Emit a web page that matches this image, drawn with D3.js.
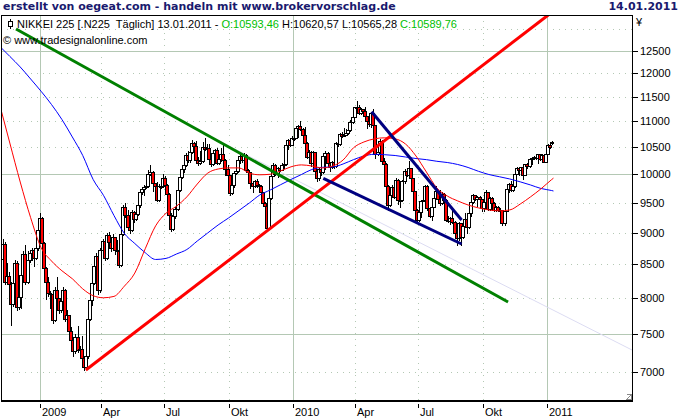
<!DOCTYPE html>
<html>
<head>
<meta charset="utf-8">
<script src="https://cdn.jsdelivr.net/npm/d3@7"></script>
<style>
  body { margin: 0; background: #fff; }
  svg text { font-family: "Liberation Sans", Arial, sans-serif; font-size: 11px; }
</style>
</head>
<body>
<svg id="chart" width="680" height="420"></svg>
<script>
// OHLC candles, 2 trading days each [open, high, low, close]
const c2008 = [
  [8577,9400,8540,9350],[9350,9420,8520,8583],[8583,8900,8560,8809],[8809,8850,8200,8238],
  [8238,8520,8200,8328],[8328,8380,8150,8207],[8207,8230,7620,7910],[7910,8360,7880,8213],
  [8213,8560,8180,8512],[8512,8550,7820,7863],[7863,8100,7840,8016],[8016,8380,7860,8329],
  [8329,8700,8300,8660],[8660,8800,8200,8235],[8235,8700,8220,8568],[8568,8720,8540,8668],
  [8668,8760,8560,8723],[8723,8740,8480,8599],[8599,8800,8580,8747],[8747,9100,8720,9043]
];
const c2009q1 = [
  [9043,9330,9000,9239],[9239,9260,8800,8836],[8836,8850,8350,8438],[8438,8460,7980,8230],
  [8230,8300,8020,8065],[8065,8100,7860,8051],[8051,8080,7650,7682],[7682,8150,7670,8106],
  [8106,8300,7960,7994],[7994,8000,7790,7825],[7825,8080,7800,7949],[7949,8150,7920,8112],
  [8112,8130,7670,7705],[7705,7820,7700,7750],[7750,7760,7500,7534],[7534,7590,7380,7416],
  [7416,7440,7200,7268],[7268,7500,7240,7458],[7458,7600,7250,7280],[7280,7330,7180,7290],
  [7290,7460,7150,7173],[7173,7200,7020,7054],[7054,7400,7040,7198],[7198,7730,7180,7704],
  [7704,8000,7680,7972],[7972,8250,7900,8215],[8215,8520,8200,8480],[8480,8680,8450,8627],
  [8627,8650,8050,8109]
];
const c2009q2 = [
  [8109,8750,8080,8719],[8719,8900,8700,8857],[8857,8880,8560,8595],[8595,9000,8580,8964],
  [8964,9010,8800,8842],[8842,8850,8700,8755],[8755,8980,8740,8924],[8924,8930,8660,8727],
  [8727,8880,8680,8708],[8708,8760,8460,8493],[8493,9000,8480,8977],[8977,9460,8960,9432],
  [9432,9500,9260,9298],[9298,9380,9060,9093],[9093,9300,9000,9038],[9038,9380,9020,9344],
  [9344,9360,9180,9225],[9225,9380,9200,9310],[9310,9480,9290,9451],[9451,9700,9430,9677],
  [9677,9780,9650,9741],[9741,9800,9640,9769],[9769,9900,9760,9787],[9787,10070,9770,10004],
  [10004,10170,9990,10039],[10039,10050,9700,9840],[9840,9850,9660,9786],[9786,9860,9520,9549],
  [9549,9820,9530,9797],[9797,9900,9760,9783]
];
const c2009q3 = [
  [9783,10000,9770,9939],[9939,9960,9790,9816],[9816,9830,9620,9647],[9647,9660,9270,9291],
  [9291,9330,9030,9050],[9050,9300,9040,9269],[9269,9420,9240,9395],[9395,9740,9380,9723],
  [9723,9960,9700,9944],[9944,10120,9930,10087],[10087,10190,10040,10165],[10165,10400,10150,10352],
  [10352,10420,10220,10252],[10252,10450,10230,10412],[10412,10640,10400,10585],[10585,10600,10400,10517],
  [10517,10620,10240,10268],[10268,10320,10170,10204],[10204,10420,10190,10238],[10238,10600,10230,10497],
  [10497,10680,10450,10473],[10473,10570,10440,10492],[10492,10560,10250,10280],[10280,10300,10150,10187],
  [10187,10420,10170,10393],[10393,10470,10290,10444],[10444,10480,10180,10202],[10202,10300,10180,10270],
  [10270,10480,10250,10370],[10370,10580,10240,10265],[10265,10280,9980,10101]
];
const c2009q4 = [
  [10101,10170,9950,9978],[9978,9990,9630,9674],[9674,9830,9650,9799],[9799,10040,9780,10016],
  [10016,10110,10000,10060],[10060,10290,10040,10258],[10258,10370,10200,10336],[10336,10360,10230,10267],
  [10267,10400,10250,10362],[10362,10370,10040,10075],[10075,10090,9860,10034],[10034,10040,9760,9844],
  [9844,9860,9680,9789],[9789,9900,9770,9870],[9870,9910,9780,9804],[9804,9830,9740,9791],
  [9791,9800,9640,9676],[9676,9690,9470,9497],[9497,9510,9370,9441],[9441,9450,9060,9081],
  [9081,9600,9070,9572],[9572,10000,9560,9977],[9977,10200,9960,10167],[10167,10190,9980,10004],
  [10004,10130,9950,10107],[10107,10140,10060,10083],[10083,10200,10070,10177],[10177,10210,10110,10183],
  [10183,10560,10170,10536],[10536,10660,10470,10634],[10634,10680,10520,10546]
];
const c2010q1 = [
  [10546,10710,10540,10681],[10681,10770,10640,10681],[10681,10900,10670,10879],[10879,10930,10700,10907],
  [10907,11010,10830,10855],[10855,10870,10700,10737],[10737,10900,10560,10590],[10590,10600,10300,10325],
  [10325,10440,10220,10415],[10415,10420,10150,10205],[10205,10430,10190,10404],[10404,10410,10030,10057],
  [10057,10060,9870,9932],[9932,10110,9900,10092],[10092,10100,9990,10034],[10034,10360,10020,10335],
  [10335,10420,10100,10400],[10400,10410,10170,10198],[10198,10220,10060,10126],[10126,10250,10110,10221],
  [10221,10280,10120,10145],[10145,10600,10130,10585],[10585,10620,10530,10563],[10563,10780,10550,10751],
  [10751,10790,10690,10721],[10721,10880,10720,10744],[10744,10850,10740,10774],[10774,10860,10760,10828],
  [10828,11030,10810,10986],[10986,11120,10970,11089]
];
const c2010q2 = [
  [11089,11300,11080,11286],[11286,11410,11260,11282],[11282,11330,11140,11168],[11168,11280,11150,11251],
  [11251,11260,11130,11204],[11204,11300,11080,11102],[11102,11110,10880,11000],[11000,11120,10920,10949],
  [10949,11180,10890,11165],[11165,11250,10900,10924],[10924,10930,10300,10364],[10364,10580,10350,10411],
  [10411,10650,10380,10620],[10620,10630,10200,10235],[10235,10290,10150,10186],[10186,10200,9700,9784],
  [9784,9800,9380,9459],[9459,9660,9440,9639],[9639,9800,9620,9768],[9768,9790,9580,9603],
  [9603,9940,9590,9901],[9901,9910,9480,9538],[9538,9580,9420,9542],[9542,9900,9530,9879],
  [9879,10090,9850,10067],[10067,10080,9960,9995],[9995,10250,9990,10113],[10113,10120,9900,9928],
  [9928,9940,9670,9693],[9693,9710,9360,9382]
];
const c2010q3 = [
  [9382,9390,9150,9203],[9203,9360,9190,9338],[9338,9550,9250,9535],[9535,9620,9520,9548],
  [9548,9810,9500,9796],[9796,9800,9380,9408],[9408,9420,9250,9278],[9278,9450,9200,9431],
  [9431,9590,9420,9572],[9572,9790,9560,9696],[9696,9700,9500,9570],[9570,9720,9460,9489],
  [9489,9680,9470,9642],[9642,9660,9530,9551],[9551,9560,9190,9212],[9212,9280,9170,9196],
  [9196,9260,9140,9241],[9241,9390,9160,9179],[9179,9190,8970,8995],[8995,9000,8800,8906],
  [8906,9180,8880,9149],[9149,9160,8800,8927],[8927,9130,8910,9114],[9114,9320,9100,9226],
  [9226,9230,9000,9099],[9099,9340,9080,9319],[9319,9540,9280,9516],[9516,9650,9500,9626],
  [9626,9640,9540,9566],[9566,9620,9450,9603],[9603,9610,9470,9559]
];
const c2010q4 = [
  [9559,9570,9350,9404],[9404,9540,9360,9518],[9518,9720,9510,9684],[9684,9690,9370,9388],
  [9388,9600,9380,9583],[9583,9590,9470,9498],[9498,9510,9360,9381],[9381,9450,9350,9426],
  [9426,9440,9360,9377],[9377,9410,9340,9366],[9366,9370,9120,9154],[9154,9380,9120,9358],
  [9358,9750,9350,9732],[9732,9850,9680,9830],[9830,9880,9700,9724],[9724,9850,9710,9797],
  [9797,10030,9780,10013],[10013,10130,10000,10115],[10115,10120,9990,10079],[10079,10140,10020,10125],
  [10125,10130,9920,9988],[9988,10190,9980,10178],[10178,10200,10120,10141],[10141,10300,10130,10285],
  [10285,10310,10190,10293],[10293,10340,10280,10309],[10309,10330,10280,10303],[10303,10380,10200,10370],
  [10370,10380,10260,10279],[10279,10370,10260,10355],[10355,10370,10220,10229],[10229,10410,10220,10380],
  [10380,10560,10370,10541],[10541,10560,10480,10512],[10593,10620,10565,10590]
];

// moving averages, sampled at candle index
const maIndex = [1,5,10,15,20,25,30,35,40,45,50,55,60,65,70,75,80,85,90,95,100,105,110,115,120,125,130,
  135,140,145,150,155,160,165,170,175,180,185,190,195,200,205,210,215,220,225,230,235,240,245,250,255,260,265,266];
const maRed = [11200,10580,9860,9245,8760,8550,8400,8280,8130,8030,8000,8020,8170,8365,8740,9110,9320,9440,
  9600,9825,10020,10095,10115,10115,10020,9990,10000,10060,10135,10170,10150,10115,10150,10260,10490,10600,
  10660,10680,10660,10560,10335,10040,9755,9615,9530,9460,9410,9375,9360,9375,9475,9600,9740,9900,9930];
const maBlue = [12560,12372,12138,11877,11617,11343,11040,10697,10345,9906,9624,9282,8985,8824,8679,8573,
  8590,8658,8729,8864,8993,9124,9240,9366,9494,9632,9719,9813,9906,9995,10086,10126,10132,10187,10267,10335,
  10367,10359,10344,10316,10288,10267,10237,10214,10178,10123,10053,9995,9955,9915,9864,9808,9746,9711,9702];

// trend lines [candle index, price]
const trendGreen = [[7.97,13000],[244.2,7939]];
const trendRed = [[41.5,7021],[263.5,13333]];
const trendNavySteep = [[178.7,11196],[221.9,9206]];
const trendNavyLow = [[155.5,9927],[221.9,8816]];
const trendFaint = [[98.7,10754],[303.7,7280]];

// axis ticks
const xTickIdx = [19.25,48.75,79.25,110.25,140.75,170.75,200.75,232.25,262.75];
const xTickLabels = ["2009","Apr","Jul","Okt","2010","Apr","Jul","Okt","2011"];
const xTickMajor = [true,false,false,false,true,false,false,false,true];
const priceTicks = [7000,7500,8000,8500,9000,9500,10000,10500,11000,11500,12000,12500,13000];
const priceLabels = [7000,7500,8000,8500,9000,9500,10000,10500,11000,11500,12000,12500];

const candles = [].concat(c2008, c2009q1, c2009q2, c2009q3, c2009q4, c2010q1, c2010q2, c2010q3, c2010q4);

const plot = { left: 1, top: 15, right: 632, bottom: 400 };
const gridColor = "#b4c8b4";

const x = d3.scaleLinear().domain([19.25, 262.75]).range([39.5, 546.7]);
const y = d3.scaleLog().domain([7000, 12500]).range([371.7, 50.7]);

const svg = d3.select("#chart");
svg.append("defs").append("clipPath").attr("id", "clip")
  .append("rect")
  .attr("x", plot.left + 1).attr("y", plot.top + 1)
  .attr("width", plot.right - plot.left - 1).attr("height", plot.bottom - plot.top - 1);

// GRID
const grid = svg.append("g").attr("shape-rendering", "crispEdges");
grid.selectAll("line.h").data(priceTicks).join("line")
  .attr("class", "h")
  .attr("x1", plot.left).attr("x2", plot.right)
  .attr("y1", d => Math.round(y(d)) + 0.5).attr("y2", d => Math.round(y(d)) + 0.5)
  .attr("stroke", gridColor)
  .attr("stroke-dasharray", d => d % 2500 === 0 ? null : "1,5");
grid.selectAll("line.v").data(xTickIdx).join("line")
  .attr("class", "v")
  .attr("x1", d => Math.round(x(d)) + 0.5).attr("x2", d => Math.round(x(d)) + 0.5)
  .attr("y1", plot.top).attr("y2", plot.bottom)
  .attr("stroke", gridColor)
  .attr("stroke-dasharray", (d, i) => xTickMajor[i] ? null : "1,5");

const plotG = svg.append("g").attr("clip-path", "url(#clip)");
const line2 = d3.line().x(d => x(d[0])).y(d => y(d[1]));

// faint trend line under the price
plotG.append("path").attr("d", line2(trendFaint))
  .attr("fill", "none").attr("stroke", "#dcdcf2").attr("stroke-width", 1);

// CANDLES
const cg = plotG.append("g").attr("shape-rendering", "crispEdges")
  .selectAll("g").data(candles).join("g");
cg.append("line")
  .attr("x1", (d, i) => Math.round(x(i)) - 0.5).attr("x2", (d, i) => Math.round(x(i)) - 0.5)
  .attr("y1", d => Math.round(y(d[1]))).attr("y2", d => Math.round(y(d[2])) + 1)
  .attr("stroke", "#000");
cg.append("rect")
  .attr("x", (d, i) => Math.round(x(i)) - 2.5)
  .attr("y", d => Math.round(y(Math.max(d[0], d[3]))) + 0.5)
  .attr("width", 3)
  .attr("height", d => Math.max(1, Math.round(y(Math.min(d[0], d[3]))) - Math.round(y(Math.max(d[0], d[3])))))
  .attr("fill", d => d[3] >= d[0] ? "#fff" : "#ff0000")
  .attr("stroke", "#000").attr("stroke-width", 1);

// MOVING AVERAGES
const maLine = d3.line().x(d => x(d[0])).y(d => y(d[1])).curve(d3.curveMonotoneX);
plotG.append("path").attr("d", maLine(maIndex.map((k, i) => [k, maBlue[i]])))
  .attr("fill", "none").attr("stroke", "#0000ff").attr("stroke-width", 1);
plotG.append("path").attr("d", maLine(maIndex.map((k, i) => [k, maRed[i]])))
  .attr("fill", "none").attr("stroke", "#ff0000").attr("stroke-width", 1);

// TREND LINES
[[trendGreen, "#008000"], [trendRed, "#ff0000"], [trendNavySteep, "#000080"], [trendNavyLow, "#000080"]]
  .forEach(t => {
    plotG.append("path").attr("d", line2(t[0]))
      .attr("fill", "none").attr("stroke", t[1]).attr("stroke-width", 3);
  });

// FRAME
svg.append("rect")
  .attr("x", plot.left + 0.5).attr("y", plot.top + 0.5)
  .attr("width", plot.right - plot.left).attr("height", plot.bottom - plot.top)
  .attr("fill", "none").attr("stroke", "#000").attr("shape-rendering", "crispEdges");
svg.append("line")
  .attr("x1", plot.left).attr("x2", plot.right + 1)
  .attr("y1", plot.bottom + 1.5).attr("y2", plot.bottom + 1.5)
  .attr("stroke", "#000").attr("shape-rendering", "crispEdges");
// resize grip
svg.append("path")
  .attr("d", "M626.5,399.5 L631.5,394.5 L631.5,399.5 Z M626.5,394.5 h5")
  .attr("fill", "#fff").attr("stroke", "#888").attr("shape-rendering", "crispEdges");

// Y AXIS
const yAx = svg.append("g");
yAx.selectAll("line").data(priceLabels).join("line")
  .attr("x1", plot.right + 1).attr("x2", plot.right + 6)
  .attr("y1", d => Math.round(y(d)) + 0.5).attr("y2", d => Math.round(y(d)) + 0.5)
  .attr("stroke", "#000").attr("shape-rendering", "crispEdges");
yAx.selectAll("text").data(priceLabels).join("text")
  .attr("x", plot.right + 8).attr("y", d => y(d) + 4)
  .attr("fill", "#000")
  .text(d => d);
svg.append("text").attr("x", 636).attr("y", 26).text("¥");

// X AXIS
const xAx = svg.append("g");
xAx.selectAll("line").data(xTickIdx).join("line")
  .attr("x1", d => Math.round(x(d)) + 0.5).attr("x2", d => Math.round(x(d)) + 0.5)
  .attr("y1", 404).attr("y2", 408)
  .attr("stroke", "#000").attr("shape-rendering", "crispEdges");
xAx.selectAll("text").data(xTickIdx).join("text")
  .attr("x", d => Math.round(x(d)) + 2).attr("y", 416)
  .text((d, i) => xTickLabels[i]);

// TITLE
svg.append("text").attr("x", 3).attr("y", 10)
  .style("font-family", '"DejaVu Sans", Verdana, sans-serif').style("font-weight", "bold")
  .style("font-size", "11px").attr("fill", "#1a1a6e")
  .text("erstellt von oegeat.com - handeln mit www.brokervorschlag.de");
svg.append("text").attr("x", 678).attr("y", 10).attr("text-anchor", "end")
  .style("font-family", '"DejaVu Sans", Verdana, sans-serif').style("font-weight", "bold")
  .style("font-size", "11px").attr("fill", "#1a1a6e")
  .text("14.01.2011");

// LEGEND
const leg = svg.append("g");
leg.append("line").attr("x1", 10.5).attr("x2", 10.5).attr("y1", 19).attr("y2", 29)
  .attr("stroke", "#000").attr("shape-rendering", "crispEdges");
leg.append("rect").attr("x", 8.5).attr("y", 21.5).attr("width", 4).attr("height", 5)
  .attr("fill", "#fff").attr("stroke", "#000").attr("shape-rendering", "crispEdges");
const lt = leg.append("text").attr("x", 17).attr("y", 28).style("white-space", "pre");
lt.append("tspan").attr("fill", "#000").text("NIKKEI 225 [.N225  Täglich] 13.01.2011 - ");
lt.append("tspan").attr("fill", "#00c000").text("O:10593,46");
lt.append("tspan").attr("fill", "#000").text(" H:10620,57 L:10565,28 ");
lt.append("tspan").attr("fill", "#00c000").text("C:10589,76");
leg.append("text").attr("x", 3).attr("y", 44).text("© www.tradesignalonline.com");
</script>
</body>
</html>
